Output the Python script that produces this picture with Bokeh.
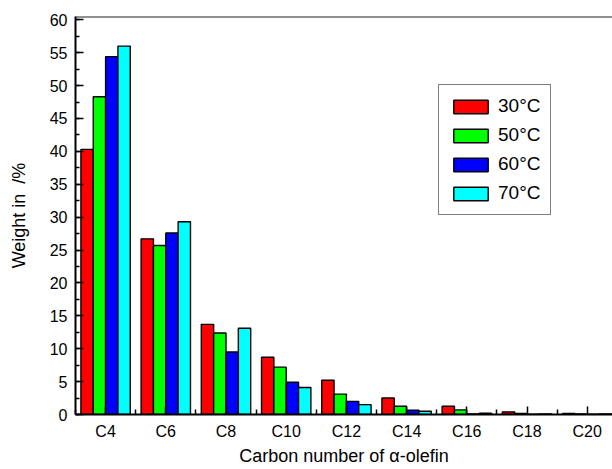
from bokeh.plotting import figure
from bokeh.models import (ColumnDataSource, Range1d, FixedTicker, SingleIntervalTicker,
                          LinearAxis, Legend, LegendItem, Span)
from bokeh.transform import dodge
from bokeh.embed import file_html
from bokeh.resources import INLINE

# ---- data ----
categories = ["C4", "C6", "C8", "C10", "C12", "C14", "C16", "C18", "C20"]
carbon = [4, 6, 8, 10, 12, 14, 16, 18, 20]
t30 = [40.3, 26.7, 13.7, 8.7, 5.2, 2.5, 1.25, 0.4, 0.15]
t50 = [48.3, 25.7, 12.4, 7.2, 3.1, 1.25, 0.7, 0.15, 0.1]
t60 = [54.4, 27.6, 9.5, 4.9, 2.0, 0.64, 0.1, 0.05, 0.05]
t70 = [56.0, 29.3, 13.1, 4.1, 1.5, 0.5, 0.2, 0.1, 0.1]
series_labels = ["30°C", "50°C", "60°C", "70°C"]
series_keys = ["t30", "t50", "t60", "t70"]
series_colors = ["#FF0000", "#00FF00", "#0000FF", "#00FFFF"]
x_title = "Carbon number of α-olefin"
y_title = "Weight in \u00a0/%"

source = ColumnDataSource(dict(carbon=carbon, t30=t30, t50=t50, t60=t60, t70=t70))

FONT = "Liberation Sans"
Y_MAX = 60.5

p = figure(frame_width=537, frame_height=398, output_backend="svg", toolbar_location=None,
           x_range=Range1d(3, 3 + 537 / 30.1), y_range=Range1d(0, Y_MAX),
           min_border_left=75, min_border_right=0, min_border_top=16, min_border_bottom=55,
           x_axis_location=None, y_axis_location=None)
p.xgrid.visible = False
p.ygrid.visible = False
p.outline_line_color = None
p.background_fill_color = "white"
p.border_fill_color = "white"

bar_w = 0.41
offsets = [-1.5 * bar_w, -0.5 * bar_w, 0.5 * bar_w, 1.5 * bar_w]
items = []
for key, lab, col, off in zip(series_keys, series_labels, series_colors, offsets):
    r = p.vbar(x=dodge("carbon", off, range=p.x_range), top=key, width=bar_w, bottom=0,
               source=source, fill_color=col, line_color="black", line_width=1.4)
    items.append(LegendItem(label=lab, renderers=[r]))

# bottom axis
xaxis = LinearAxis(ticker=FixedTicker(ticks=carbon, minor_ticks=[3, 5, 7, 9, 11, 13, 15, 17, 19, 21]))
xaxis.major_label_overrides = {c: lab for c, lab in zip(carbon, categories)}
xaxis.axis_label = x_title
xaxis.axis_line_width = 2
xaxis.axis_line_color = "black"
xaxis.major_tick_in = 8
xaxis.major_tick_out = 0
xaxis.minor_tick_in = 5
xaxis.minor_tick_out = 0
xaxis.major_tick_line_width = 1.5
xaxis.minor_tick_line_width = 1.5
xaxis.major_label_text_font = FONT
xaxis.major_label_text_font_size = "16px"
xaxis.major_label_text_color = "black"
xaxis.major_label_standoff = 8
xaxis.axis_label_text_font = FONT
xaxis.axis_label_text_font_size = "18px"
xaxis.axis_label_text_font_style = "normal"
xaxis.axis_label_text_color = "black"
xaxis.axis_label_standoff = 3
p.add_layout(xaxis, "below")

# left axis
yaxis = LinearAxis(ticker=SingleIntervalTicker(interval=5, num_minor_ticks=2))
yaxis.axis_label = y_title
yaxis.axis_line_width = 2
yaxis.axis_line_color = "black"
yaxis.major_tick_in = 8
yaxis.major_tick_out = 0
yaxis.minor_tick_in = 4
yaxis.minor_tick_out = 0
yaxis.major_tick_line_width = 1.5
yaxis.minor_tick_line_width = 1.5
yaxis.major_label_text_font = FONT
yaxis.major_label_text_font_size = "16px"
yaxis.major_label_text_color = "black"
yaxis.major_label_standoff = 8
yaxis.axis_label_text_font = FONT
yaxis.axis_label_text_font_size = "18px"
yaxis.axis_label_text_font_style = "normal"
yaxis.axis_label_text_color = "black"
yaxis.axis_label_standoff = 18
p.add_layout(yaxis, "left")

# top frame line
p.add_layout(Span(location=Y_MAX, dimension="width", line_color="#222222", line_width=2))

legend = Legend(items=items, location=(363, 199))
legend.label_text_font = FONT
legend.label_text_font_size = "19px"
legend.label_text_color = "black"
legend.glyph_width = 43
legend.glyph_height = 17
legend.label_height = 22
legend.label_standoff = 6
legend.spacing = 7
legend.padding = 10
legend.margin = 0
legend.border_line_color = "black"
legend.border_line_width = 1.2
legend.background_fill_color = "white"
legend.background_fill_alpha = 1.0
p.add_layout(legend, "center")

open("out.html", "w").write(file_html(p, INLINE))
